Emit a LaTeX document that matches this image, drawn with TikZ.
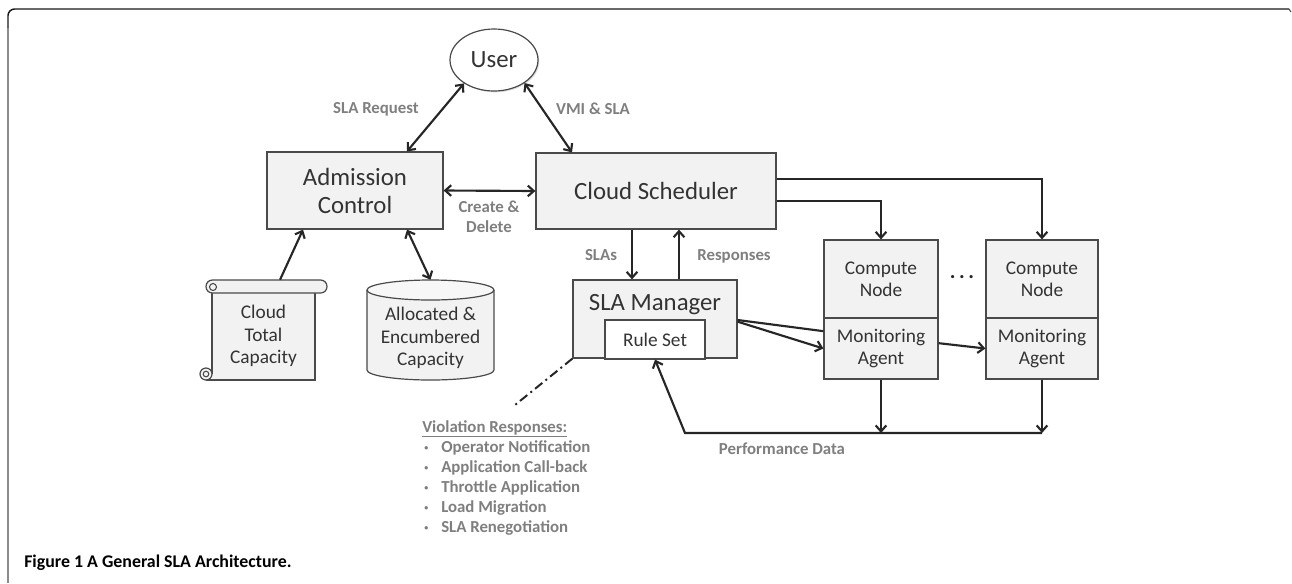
\documentclass[tikz,border=0pt]{standalone}
\usepackage{fontspec}
\setmainfont{Carlito}
\usetikzlibrary{arrows.meta,shapes.geometric,calc,shadows}
\definecolor{boxfill}{HTML}{F2F2F2}
\definecolor{boxline}{HTML}{4A4A4A}
\definecolor{txt}{HTML}{333333}
\definecolor{lbl}{HTML}{7F7F7F}
\newcommand\fbig{\fontsize{18.6}{21}\selectfont}
\newcommand\fmid{\fontsize{14.5}{16.8}\selectfont}
\newcommand\flbl{\fontsize{12.6}{15}\selectfont\bfseries}
\newcommand\smallbul{\makebox[12.75pt][l]{\raisebox{1.2pt}{\fontsize{6}{6}\selectfont\textbullet}}}
\begin{document}
\begin{tikzpicture}[x=0.75pt,y=-0.75pt,
  box/.style={draw=boxline, fill=boxfill, line width=0.9pt, inner sep=0pt, align=center, text=txt,
    drop shadow={shadow xshift=1pt, shadow yshift=-1pt, opacity=0.25}},
  ghost/.style={inner sep=0pt},
  intext/.style={inner sep=0pt, align=center, text=txt},
  lbl/.style={inner sep=0pt, align=center, text=lbl, font=\flbl},
  vr/.style={inner sep=0pt, anchor=base west, text=lbl, font=\flbl},
  conn/.style={line width=1.6pt, draw=black!85},
  arr/.style={conn, -{Straight Barb[length=4.5pt,width=8pt]}},
  dbl/.style={conn, {Straight Barb[length=4.5pt,width=8pt]}-{Straight Barb[length=4.5pt,width=8pt]}},
  shapeline/.style={draw=boxline, line width=0.9pt, fill=boxfill},
  dashdot/.style={line width=1.5pt, draw=black!85, dash pattern=on 7pt off 3pt on 1.5pt off 3pt}
]
\useasboundingbox (0,0) rectangle (1292,583);
% frame
\draw[line width=1.6pt, draw=black!45] (8,583) -- (8,28);
\draw[line width=1.1pt, draw=black!90, rounded corners=5pt] (8,28) |- (1289,9);
\draw[line width=0.8pt, draw=black!70] (1289,9) -- (1291,12);

% nodes
\node[box, ellipse, fill=white, minimum width=66pt, minimum height=46.5pt, font=\fbig, drop shadow={opacity=0}] (user) at (494,60) {User};
\node[box, minimum width=132pt, minimum height=57.75pt, font=\fbig] (adm) at (355,190.5) {Admission\\Control};
\node[box, minimum width=180pt, minimum height=57pt, font=\fbig] (cs) at (656,191) {Cloud Scheduler};
\node[box, minimum width=123pt, minimum height=58.5pt] (sla) at (655,319) {};
\node[intext, font=\fbig] (slat) at (655,305) {SLA Manager};
\node[box, fill=white, minimum width=75pt, minimum height=29.25pt, font=\fmid, drop shadow={opacity=0}] (rs) at (655,339.5) {Rule Set};
\node[box, minimum width=85.5pt, minimum height=58.5pt, font=\fmid] (cn1) at (881,279) {Compute\\Node};
\node[box, minimum width=85.5pt, minimum height=45.75pt, font=\fmid] (ma1) at (881,348.5) {Monitoring\\Agent};
\node[box, minimum width=84pt, minimum height=58.5pt, font=\fmid] (cn2) at (1042,279) {Compute\\Node};
\node[box, minimum width=84pt, minimum height=45.75pt, font=\fmid] (ma2) at (1042,348.5) {Monitoring\\Agent};
\node[inner sep=0pt, text=black!85, font=\fontsize{16}{16}\selectfont\bfseries] (dots) at (962,277) {.\kern2.6pt.\kern2.6pt.};

% scroll shape
\fill[boxfill] (212,286) rectangle (315,380);
\draw[draw=boxline, line width=0.9pt] (212,293) -- (212,374);
\draw[draw=boxline, line width=0.9pt] (206,380) -- (315,380) -- (315,293);
\draw[shapeline] (206,374) circle [radius=6];
\draw[draw=boxline, line width=0.8pt] (206,374) circle [radius=2.8];
\draw[shapeline, rounded corners=4.8pt] (206,280) rectangle (327,293);
\draw[draw=boxline, line width=0.8pt] (213,287) circle [radius=3.5];
\node[ghost, minimum width=77.25pt, minimum height=75pt] (scroll) at (263.5,330) {};
\node[intext, font=\fmid] at (263.5,336) {Cloud\\Total\\Capacity};

% cylinder
\fill[boxfill] (367,290) rectangle (494,370);
\fill[boxfill] (430.5,370) ellipse [x radius=63.5, y radius=10];
\draw[draw=boxline, line width=0.9pt] (367,290) -- (367,370) arc [start angle=180, end angle=0, x radius=63.5, y radius=10] -- (494,290);
\draw[shapeline, fill=boxfill!60!white] (430.5,290) ellipse [x radius=63.5, y radius=10];
\node[ghost, minimum width=95.25pt, minimum height=75pt] (alloc) at (430.5,330) {};
\node[intext, font=\fmid] at (430.5,338) {Allocated \&\\Encumbered\\Capacity};

% connectors
\draw[dbl] (user.218) -- ([xshift=39pt]adm.north);
\draw[dbl] (user.323) -- ([xshift=-63pt]cs.north);
\draw[dbl] (adm.east) -- (cs.west);
\draw[arr] ([xshift=12.4pt]scroll.north) -- ([xshift=-39pt]adm.south);
\draw[dbl] (alloc.north) -- ([xshift=39pt]adm.south);
\draw[arr] ([xshift=-18pt]cs.south) -- ([xshift=-18pt]cs.south |- sla.north);
\draw[arr] ([xshift=18pt]sla.north) -- ([xshift=18pt]sla.north |- cs.south);
\draw[arr] ([yshift=-7.5pt]cs.east) -| (cn1.north);
\draw[arr] ([yshift=9pt]cs.east) -| (cn2.north);
\draw[conn] ([yshift=-0.75pt]sla.east) -- ([yshift=13pt]ma1.west);
\draw[arr] ([yshift=-2pt]sla.east) -- (ma1.west);
\draw[arr] ([yshift=4pt]ma1.east) -- (ma2.west);
\coordinate (pl) at (685,433);
\coordinate (pr) at (ma2.south |- pl);
\draw[arr] (ma1.south) -- (ma1.south |- pl);
\draw[arr] (ma2.south) -- (pr);
\draw[arr] (pr) -- (pl) -- (rs.south);
\coordinate (dd) at (515,405);
\draw[dashdot] (sla.south west) -- (dd);

% labels
\node[lbl] at (376,109) {SLA Request};
\node[lbl] at (593,109) {VMI \& SLA};
\node[lbl] at (489,217) {Create \&\\Delete};
\node[lbl] at (601,255) {SLAs};
\node[lbl] at (734,256) {Responses};
\node[lbl] at (782,449) {Performance Data};

% violation responses
\node[vr] at (422,432) {\underline{Violation Responses:}};
\node[vr] at (424,452) {\smallbul Operator Notification};
\node[vr] at (424,472) {\smallbul Application Call-back};
\node[vr] at (424,492) {\smallbul Throttle Application};
\node[vr] at (424,512) {\smallbul Load Migration};
\node[vr] at (424,532) {\smallbul SLA Renegotiation};

% caption
\node[inner sep=0pt, anchor=base west, font=\fontsize{13.4}{15}\selectfont\bfseries] at (24,567) {Figure 1 A General SLA Architecture.};
\end{tikzpicture}
\end{document}
